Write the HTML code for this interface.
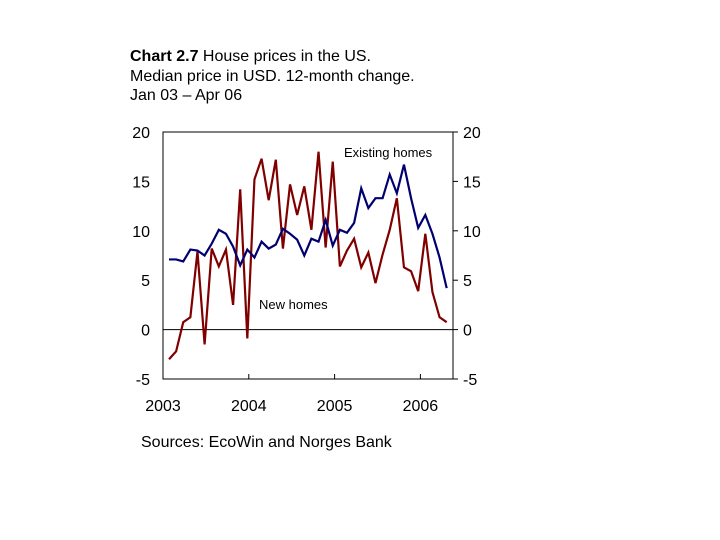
<!DOCTYPE html>
<html><head><meta charset="utf-8"><style>
body{margin:0;background:#fff;width:720px;height:540px;overflow:hidden;font-family:"Liberation Sans",Arial,sans-serif}
.t{position:absolute;left:130px;font-size:16px;color:#000;line-height:19.5px}
</style></head><body>
<div class="t" style="top:47px"><b>Chart 2.7</b> House prices in the US.<br>Median price in USD. 12-month change.<br>Jan 03 – Apr 06</div>
<svg width="720" height="540" style="position:absolute;left:0;top:0" id="c"></svg>
<div style="position:absolute;left:141px;top:434px;font-size:16px">Sources: EcoWin and Norges Bank</div>
<script>
const yTicks=[20,15,10,5,0,-5];
const years=["2003","2004","2005","2006"];
const newHomes=[-3.0,-2.2,0.75,1.25,7.9,-1.5,8.2,6.4,8.1,2.5,14.2,-0.9,15.2,17.3,13.1,17.2,8.2,14.7,11.6,14.5,10.1,18.0,8.3,17.0,6.4,8.0,9.2,6.3,7.8,4.7,7.6,10.1,13.3,6.3,5.9,3.9,9.7,3.8,1.25,0.75];
const existingHomes=[7.1,7.1,6.9,8.1,8.0,7.5,8.7,10.1,9.7,8.4,6.5,8.1,7.3,8.9,8.2,8.6,10.2,9.7,9.1,7.5,9.2,8.9,11.1,8.5,10.1,9.8,10.8,14.3,12.3,13.3,13.3,15.7,13.8,16.7,13.3,10.3,11.6,9.7,7.3,4.2];
const L=163,R=453,T=132,B=379;
const y=v=>T+(20-v)*(B-T)/25;
const xm=i=>169+i*7.12;
const xy=k=>L+k*85.8;
const svg=document.getElementById('c');const NS='http://www.w3.org/2000/svg';
function mk(t,a){const e=document.createElementNS(NS,t);for(const k in a)e.setAttribute(k,a[k]);svg.appendChild(e);return e;}
let f=mk('rect',{x:L,y:T,width:R-L,height:B-T,fill:'none',stroke:'#000','stroke-width':1});


let z=mk('line',{x1:L,x2:R,y1:y(0),y2:y(0),stroke:'#000'});


yTicks.forEach(v=>{
 let tk=mk('line',{x1:R,x2:R+5,y1:y(v),y2:y(v),stroke:'#000'});
 
 
 let a=mk('text',{x:150,y:y(v)+6,'text-anchor':'end','font-size':16,'font-family':'Liberation Sans, Arial, sans-serif'});a.textContent=v;
 
 
 let b=mk('text',{x:463,y:y(v)+6,'font-size':16,'font-family':'Liberation Sans, Arial, sans-serif'});b.textContent=v;
 
 
});
years.forEach((s,k)=>{
 if(k>0){let tk=mk('line',{x1:xy(k),x2:xy(k),y1:B,y2:B-5,stroke:'#000'});
 
 }
 let t=mk('text',{x:xy(k),y:411,'text-anchor':'middle','font-size':16,'font-family':'Liberation Sans, Arial, sans-serif'});t.textContent=s;
 
 
});
function line(d,c,n){let p=mk('polyline',{points:d.map((v,i)=>xm(i)+','+y(v)).join(' '),fill:'none',stroke:c,'stroke-width':2.2,'stroke-linejoin':'miter'});
 
 }
line(newHomes,'#800000','new-homes-line');
line(existingHomes,'#000070','existing-homes-line');
let l1=mk('text',{x:344,y:157,'font-size':13,'font-family':'Liberation Sans, Arial, sans-serif'});l1.textContent='Existing homes';


let l2=mk('text',{x:259,y:309,'font-size':13,'font-family':'Liberation Sans, Arial, sans-serif'});l2.textContent='New homes';


</script>
</body></html>
